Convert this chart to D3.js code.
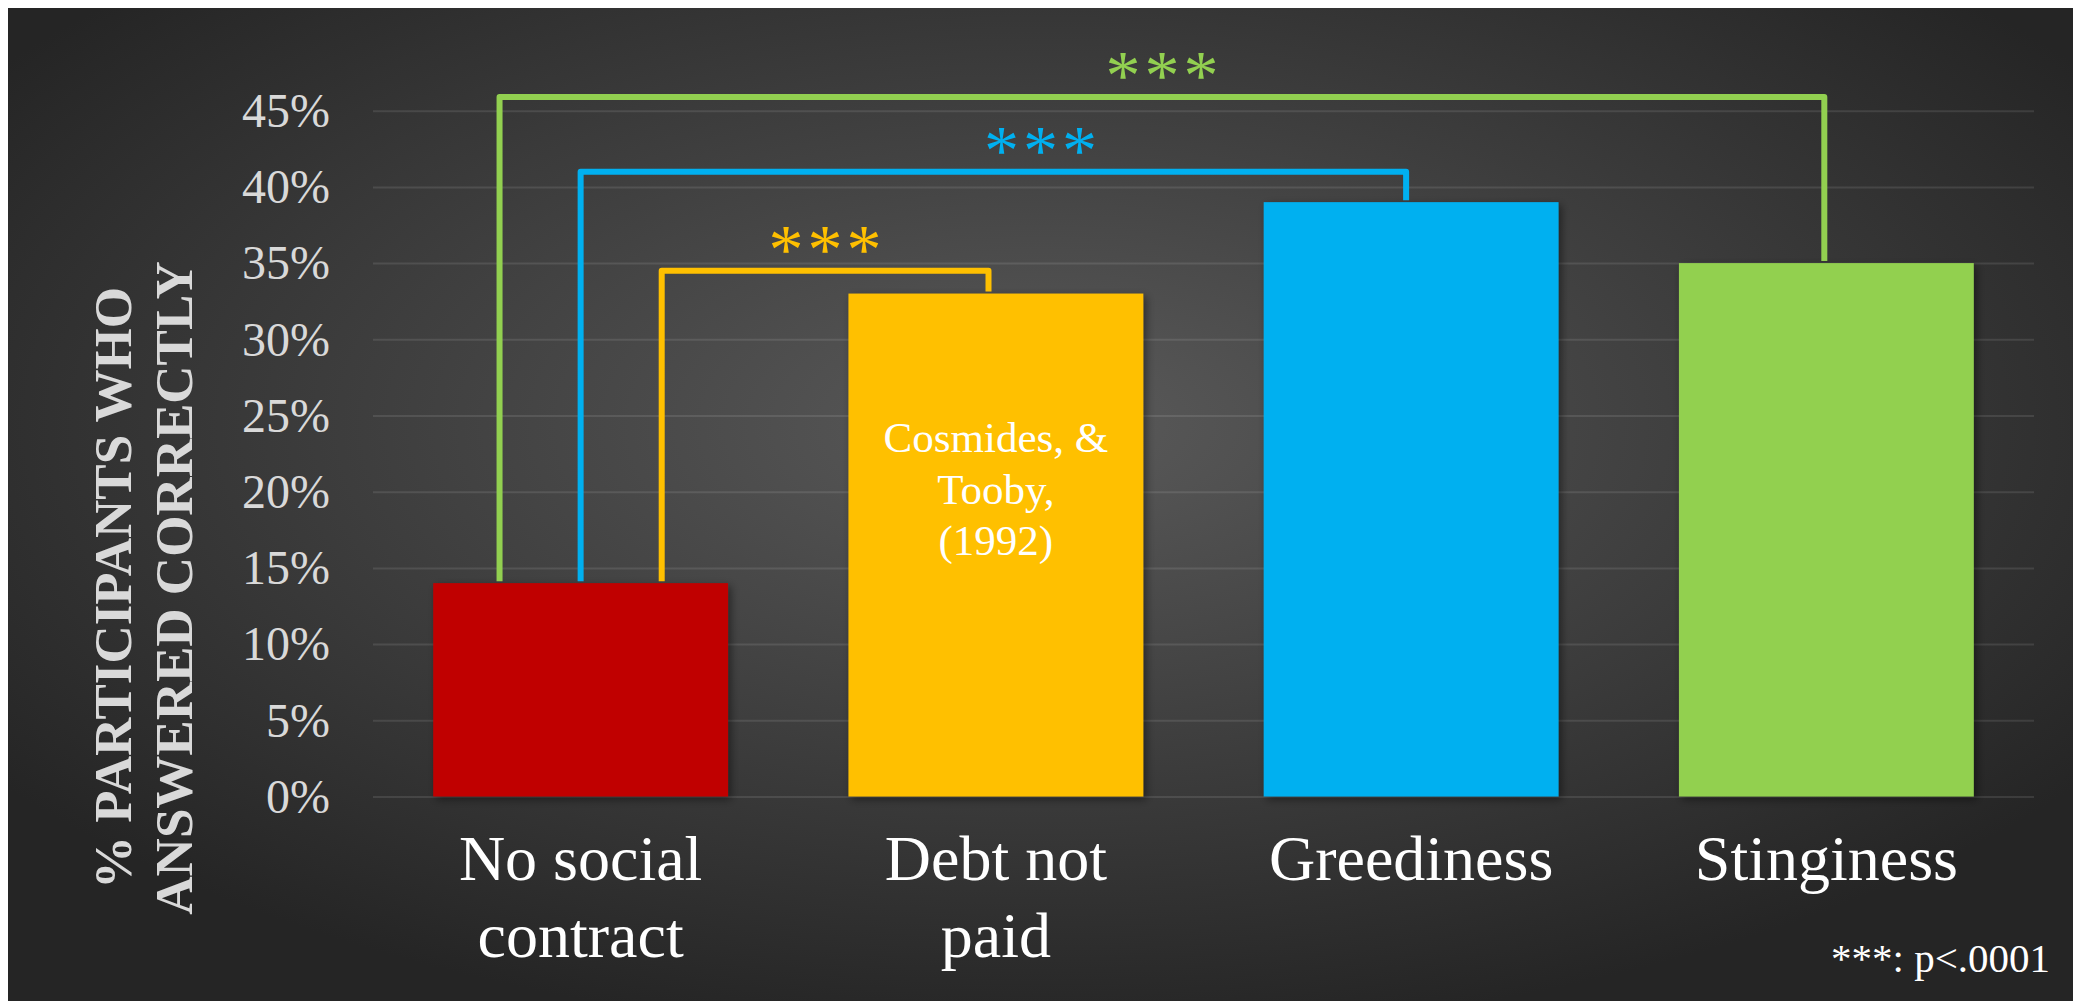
<!DOCTYPE html>
<html>
<head>
<meta charset="utf-8">
<script src="https://cdn.jsdelivr.net/npm/d3@7"></script>
<style>
  html, body { margin: 0; padding: 0; background: #fff; }
  svg { display: block; }
  text { font-family: "Liberation Serif", "Times New Roman", serif; }
</style>
</head>
<body>
<svg id="chart" width="2073" height="1001"></svg>
<script>
// chart data
const categories = ['No social contract', 'Debt not paid', 'Greediness', 'Stinginess'];
const labelLines = [['No social', 'contract'], ['Debt not', 'paid'], ['Greediness'], ['Stinginess']];
const values = [14, 33, 39, 35];
const barColors = ['#C00000', '#FFC000', '#00B0F0', '#92D050'];
const yTicks = [0, 5, 10, 15, 20, 25, 30, 35, 40, 45];
const axisTitle = ['% PARTICIPANTS WHO', 'ANSWERED CORRECTLY'];
const noteLines = ['Cosmides, &', 'Tooby,', '(1992)'];

// significance brackets: from bar 0 to target bar
const bracketTargets = ['Debt not paid', 'Greediness', 'Stinginess'];
const bracketLevels = [34.5, 41, 45.9];
const bracketColors = ['#FFC000', '#00B0F0', '#92D050'];
const bracketStart = [0.275, 0, -0.275];   // offset on first bar, in bar widths
const bracketEnd = [-0.025, -0.017, -0.007];
const starsAt = [0.5, 0.557, 0.5];          // star position along the bracket
const legendText = '***: p<.0001';

const W = 2073, H = 1001;
const svg = d3.select('#chart');
const defs = svg.append('defs');

const grad = defs.append('radialGradient')
  .attr('id', 'bg').attr('cx', '50%').attr('cy', '42%').attr('r', '62%');
grad.append('stop').attr('offset', '0%').attr('stop-color', '#5a5a5a');
grad.append('stop').attr('offset', '100%').attr('stop-color', '#252525');

const shadow = defs.append('filter').attr('id', 'shadow')
  .attr('x', '-10%').attr('y', '-10%').attr('width', '130%').attr('height', '130%');
shadow.append('feDropShadow')
  .attr('dx', 3).attr('dy', 3).attr('stdDeviation', 4)
  .attr('flood-color', '#000').attr('flood-opacity', 0.45);

svg.append('rect')
  .attr('x', 8).attr('y', 8).attr('width', W - 8).attr('height', H - 8)
  .attr('fill', 'url(#bg)');

const x = d3.scaleBand().domain(categories).range([373, 2034])
  .paddingInner(0.29).paddingOuter(0.145);
const y = d3.scaleLinear().domain([0, 45]).range([796.5, 110.7]);

// gridlines + tick labels
const yAxis = d3.axisLeft(y).tickValues(yTicks)
  .tickSize(-(x.range()[1] - x.range()[0]))
  .tickFormat(d => d + '%')
  .tickPadding(43);
const gy = svg.append('g').attr('transform', `translate(${x.range()[0]},0)`).call(yAxis);
gy.select('.domain').remove();
gy.selectAll('.tick line').attr('stroke', '#ffffff').attr('stroke-opacity', 0.1).attr('stroke-width', 2);
gy.selectAll('.tick text')
  .attr('fill', '#d9d9d9').attr('font-size', 48)
  .attr('font-family', '"Liberation Serif", "Times New Roman", serif')
  .attr('dy', '0.33em');

// bars
svg.append('g').selectAll('rect').data(categories).join('rect')
  .attr('x', d => x(d))
  .attr('y', (d, i) => y(values[i]))
  .attr('width', x.bandwidth())
  .attr('height', (d, i) => y(0) - y(values[i]))
  .attr('fill', (d, i) => barColors[i])
  .attr('filter', 'url(#shadow)');

// note inside the yellow bar
const noteX = x('Debt not paid') + x.bandwidth() / 2;
svg.append('text')
  .attr('x', noteX).attr('y', 452)
  .attr('text-anchor', 'middle').attr('fill', '#ffffff').attr('font-size', 43)
  .selectAll('tspan').data(noteLines).join('tspan')
  .attr('x', noteX).attr('dy', (d, i) => i === 0 ? 0 : '1.2em')
  .text(d => d);

// brackets
const bw = x.bandwidth();
bracketTargets.forEach((t, i) => {
  const x0 = x(categories[0]) + bw / 2 + bracketStart[i] * bw;
  const x1 = x(t) + bw / 2 + bracketEnd[i] * bw;
  const yl = y(bracketLevels[i]);
  const y0 = y(values[0]) - 2;
  const y1 = y(values[categories.indexOf(t)]) - 2;
  svg.append('path')
    .attr('d', d3.line()([[x0, y0], [x0, yl], [x1, yl], [x1, y1]]))
    .attr('fill', 'none')
    .attr('stroke', bracketColors[i])
    .attr('stroke-width', 6)
    .attr('stroke-linejoin', 'round');
  // letter-spacing also trails the last glyph, so nudge right by half of it
  svg.append('text')
    .attr('x', x0 + (x1 - x0) * starsAt[i] + 2)
    .attr('y', yl + 2)
    .attr('text-anchor', 'middle')
    .attr('fill', bracketColors[i])
    .attr('font-size', 70)
    .attr('letter-spacing', 4)
    .text('***');
});

// category labels
categories.forEach((c, i) => {
  const cx = x(c) + bw / 2;
  svg.append('text')
    .attr('x', cx).attr('y', 880)
    .attr('text-anchor', 'middle').attr('fill', '#ffffff').attr('font-size', 64)
    .selectAll('tspan').data(labelLines[i]).join('tspan')
    .attr('x', cx).attr('dy', (d, j) => j === 0 ? 0 : 77)
    .text(d => d);
});

// axis title
const titleX = [131, 192];
axisTitle.forEach((t, i) => {
  svg.append('text')
    .attr('transform', `translate(${titleX[i]},588) rotate(-90)`)
    .attr('text-anchor', 'middle')
    .attr('fill', '#d9d9d9')
    .attr('font-weight', 'bold')
    .attr('font-size', 53)
    .text(t);
});

// legend
svg.append('text')
  .attr('x', 2050).attr('y', 972)
  .attr('text-anchor', 'end').attr('fill', '#ffffff').attr('font-size', 41)
  .text(legendText);
</script>
</body>
</html>
